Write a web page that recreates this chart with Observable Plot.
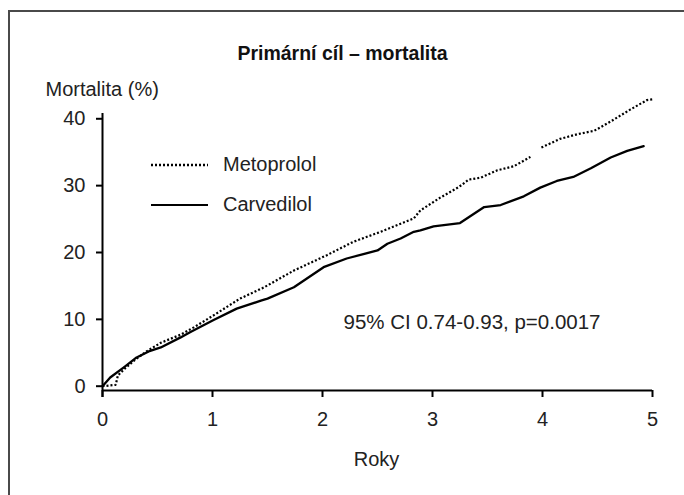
<!DOCTYPE html>
<html><head><meta charset="utf-8">
<script src="https://cdn.jsdelivr.net/npm/d3@7"></script>
<script src="https://cdn.jsdelivr.net/npm/@observablehq/plot@0.6"></script>
<style>
html,body{margin:0;padding:0;background:#fff;}
#wrap{position:relative;width:684px;height:495px;overflow:hidden;background:#fff;}
#chart{position:absolute;left:0;top:0;}
#border{position:absolute;left:8px;top:10px;width:720px;height:520px;border-left:2px solid #4a4a4a;border-top:2px solid #4a4a4a;z-index:2;pointer-events:none;}
</style></head><body>
<div id="wrap"><div id="chart"></div><div id="border"></div></div>
<script>
// ---- data ----
const titleText = "Primární cíl – mortalita";
const yLabel = "Mortalita (%)";
const xLabel = "Roky";
const annotation = "95% CI 0.74-0.93, p=0.0017";
const seriesNames = ["Metoprolol", "Carvedilol"];
const xTicks = [0, 1, 2, 3, 4, 5];
const yTicks = [0, 10, 20, 30, 40];

// null marks the short gap visible in the dotted curve just before year 4
const metoprololYears = [0, 0.12, 0.14, 0.2, 0.3, 0.4, 0.53, 0.71, 0.83, 1.0, 1.25, 1.47, 1.74, 2.04, 2.28, 2.53, 2.71, 2.83, 2.89, 3.07, 3.24, 3.33, 3.44, 3.59, 3.74, 3.89, 3.94, 3.99, 4.16, 4.32, 4.47, 4.62, 4.8, 4.95, 5.0];
const metoprololMort  = [0, 0.2, 1.6, 2.6, 4.0, 5.2, 6.5, 7.7, 8.8, 10.5, 13.1, 14.8, 17.3, 19.6, 21.6, 23.1, 24.3, 25.1, 26.3, 28.2, 29.8, 30.9, 31.2, 32.3, 32.9, 34.3, null, 35.7, 37.0, 37.7, 38.2, 39.6, 41.4, 42.8, 42.9];

const carvedilolYears = [0, 0.07, 0.2, 0.31, 0.42, 0.53, 0.71, 0.8, 1.01, 1.22, 1.44, 1.5, 1.74, 2.01, 2.22, 2.5, 2.59, 2.71, 2.83, 2.89, 3.01, 3.25, 3.47, 3.62, 3.83, 3.98, 4.13, 4.28, 4.44, 4.62, 4.77, 4.92];
const carvedilolMort  = [0, 1.3, 2.9, 4.3, 5.2, 5.8, 7.3, 8.1, 9.9, 11.6, 12.8, 13.1, 14.8, 17.8, 19.1, 20.3, 21.3, 22.1, 23.1, 23.3, 23.9, 24.4, 26.8, 27.1, 28.4, 29.7, 30.7, 31.3, 32.6, 34.2, 35.2, 35.9];

// ---- tables ----
const metData = metoprololYears.map((t, i) => ({t, v: metoprololMort[i]}));
const carData = carvedilolYears.map((t, i) => ({t, v: carvedilolMort[i]}));

const font = "'Liberation Sans', Arial, Helvetica, sans-serif";
const yMin = -0.643, yMax = 40.79;
const dotted = "2,2";

function legendMark(index, scales, values, dims) {
  const g = d3.create("svg:g").attr("font-family", font).attr("font-size", 20);
  const styles = [{dash: dotted, w: 2.4}, {dash: null, w: 2.2}];
  seriesNames.forEach((name, i) => {
    const y = 165 + 40 * i;
    const ln = g.append("line").attr("x1", 151).attr("x2", 208).attr("y1", y).attr("y2", y)
      .attr("stroke", "#000").attr("stroke-width", styles[i].w).attr("stroke-linecap", "butt");
    if (styles[i].dash) ln.attr("stroke-dasharray", styles[i].dash);
    g.append("text").attr("x", 223).attr("y", y).attr("dy", "0.32em")
      .attr("text-anchor", "start").attr("fill", "#222").text(name);
  });
  return g.node();
}

const plot = Plot.plot({
  width: 684, height: 495,
  marginLeft: 102, marginRight: 32, marginTop: 113, marginBottom: 105,
  style: {fontFamily: font, fontSize: "20px", color: "#222", background: "transparent", overflow: "visible"},
  x: {domain: [0, 5]},
  y: {domain: [yMin, yMax]},
  marks: [
    Plot.line(metData, {x: "t", y: "v", stroke: "#000", strokeWidth: 2.2, strokeDasharray: dotted, strokeLinecap: "butt", strokeLinejoin: "miter"}),
    Plot.line(carData, {x: "t", y: "v", stroke: "#000", strokeWidth: 2.3}),
    Plot.ruleX([0], {stroke: "#000", strokeWidth: 2, insetBottom: -7}),
    Plot.ruleY([yMin], {stroke: "#000", strokeWidth: 2}),
    Plot.axisY(yTicks, {tickSize: 6, tickPadding: 11, stroke: "#000", strokeWidth: 2, fill: "#222", fontSize: 20, label: null}),
    Plot.axisX(xTicks, {tickSize: 7, tickPadding: 14, stroke: "#000", strokeWidth: 2, fill: "#222", fontSize: 20, label: null}),
    Plot.text([titleText], {text: d => d, frameAnchor: "top-left", dx: 240, dy: -67, fontWeight: "bold", fontSize: 19.5, fill: "#111", textAnchor: "middle"}),
    Plot.text([yLabel], {text: d => d, frameAnchor: "top-left", dx: -57, dy: -31.5, textAnchor: "start", fill: "#222", fontSize: 20}),
    Plot.text([xLabel], {text: d => d, frameAnchor: "bottom", dx: -1, dy: 75, fill: "#222", fontSize: 20}),
    Plot.text([annotation], {text: d => d, frameAnchor: "top-left", dx: 241, dy: 201, textAnchor: "start", fill: "#222", fontSize: 20.5}),
    legendMark
  ]
});
document.getElementById("chart").appendChild(plot);
</script>
</body></html>
